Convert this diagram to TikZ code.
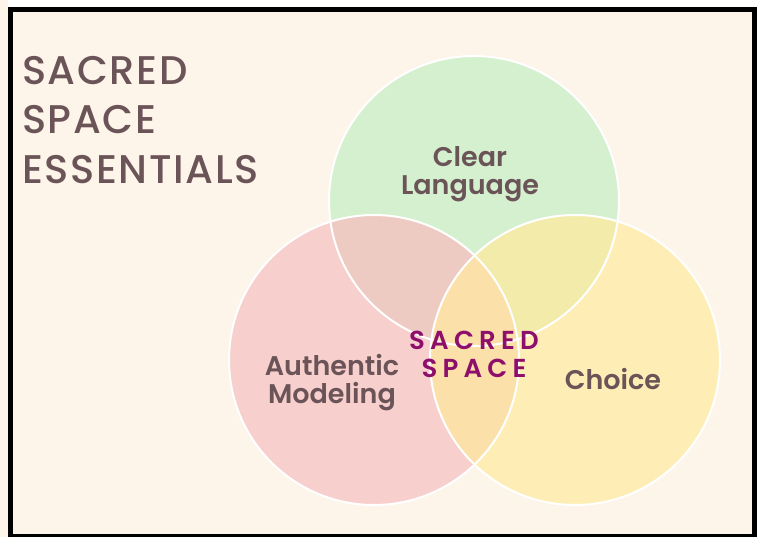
\documentclass[tikz,border=0pt]{standalone}
\usepackage{fontspec}
\setmainfont{Poppins}[BoldFont=* SemiBold]
\newfontfamily\spacedfont[LetterSpace=20,BoldFont=* SemiBold]{Poppins}
\newfontfamily\titlefont[LetterSpace=4,UprightFont=* Medium]{Poppins}
\definecolor{bgcream}{HTML}{FDF4EA}
\definecolor{cgreen}{HTML}{D5F0CF}
\definecolor{cpink}{HTML}{F7CFCC}
\definecolor{cyellow}{HTML}{FEEEB6}
\definecolor{cgp}{HTML}{EDCBC2}
\definecolor{cgy}{HTML}{F3EBAA}
\definecolor{cpy}{HTML}{FCE0AA}
\definecolor{labelc}{HTML}{6B5458}
\definecolor{magentac}{HTML}{8E0E6B}
\tikzset{
  x=1pt,y=-1pt,
  ring/.style={draw=white,line width=2pt},
  label/.style={font=\bfseries\fontsize{27}{28}\selectfont,text=labelc,align=center,inner sep=0pt,anchor=base},
  titletext/.style={font=\titlefont\fontsize{40}{48}\selectfont,text=labelc,anchor=base west,inner sep=0pt},
  centertext/.style={font=\spacedfont\bfseries\fontsize{26}{28}\selectfont,text=magentac,align=center,inner sep=0pt,anchor=base}
}
\begin{document}
\begin{tikzpicture}
\useasboundingbox (0,0) rectangle (762,537);
\fill[white] (0,0) rectangle (762,537);
\fill[bgcream] (0,0) rectangle (8,537);
\fill[bgcream] (10.5,9.5) rectangle (754.5,536);
% circles
\coordinate (G) at (474,201);
\coordinate (P) at (374,360);
\coordinate (Y) at (575,360);
\fill[cgreen] (G) circle[radius=145];
\fill[cpink] (P) circle[radius=145];
\fill[cyellow] (Y) circle[radius=145];
\begin{scope}
  \clip (G) circle[radius=145];
  \fill[cgp] (P) circle[radius=145];
  \fill[cgy] (Y) circle[radius=145];
\end{scope}
\begin{scope}
  \clip (P) circle[radius=145];
  \fill[cpy] (Y) circle[radius=145];
\end{scope}
\draw[ring] (G) circle[radius=145];
\draw[ring] (P) circle[radius=145];
\draw[ring] (Y) circle[radius=145];
% frame
\draw[black,line width=5pt] (10.5,9.5) rectangle (754.5,536);
% title
\node[titletext] (t1) at (22,85) {SACRED};
\node[titletext] (t2) at (22,134) {SPACE};
\node[titletext] (t3) at (22,184) {ESSENTIALS};
% labels
\node[label] (clear) at (470,195) {Clear\\Language};
\node[label] (auth) at (332,403) {Authentic\\Modeling};
\node[label] (choice) at (613,389) {Choice};
\node[centertext] (sacred) at (474,377) {SACRED\\SPACE};
\end{tikzpicture}
\end{document}
